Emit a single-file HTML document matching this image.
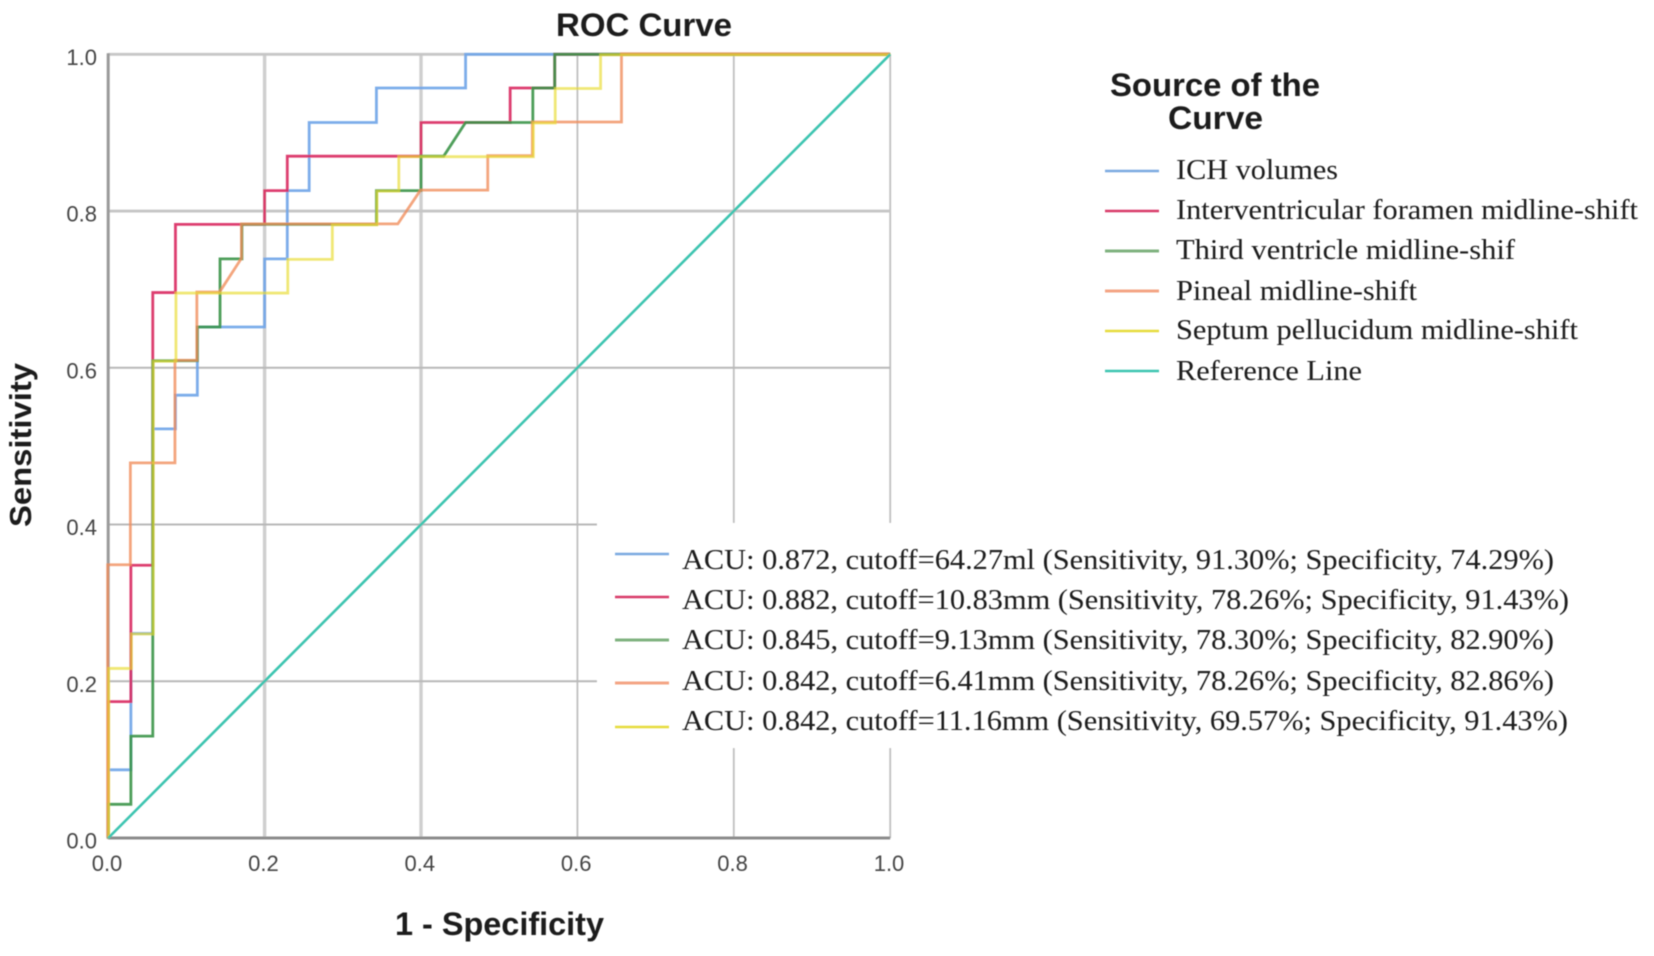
<!DOCTYPE html>
<html lang="en">
<head>
<meta charset="utf-8">
<title>ROC Curve</title>
<style>
html,body{margin:0;padding:0;background:#fff;width:1654px;height:956px;overflow:hidden}
svg{display:block}
.sans{font-family:"Liberation Sans",sans-serif}
.serif{font-family:"Liberation Serif",serif;font-size:29px;fill:#1a1a1a}
.bold{font-weight:bold;fill:#1a1a1a}
.tick{font-family:"Liberation Sans",sans-serif;font-size:22px;fill:#444}
</style>
</head>
<body>
<svg id="chart" width="1654" height="956" viewBox="0 0 1654 956" xmlns="http://www.w3.org/2000/svg">
  <defs>
    <filter id="soft" x="-5%" y="-5%" width="110%" height="110%"><feGaussianBlur stdDeviation="0.45"/></filter>
    <filter id="softtext" x="-5%" y="-5%" width="110%" height="110%"><feGaussianBlur stdDeviation="0.4"/></filter>
  </defs>
  <rect x="0" y="0" width="1654" height="956" fill="#ffffff"/>
  <g id="plot" filter="url(#soft)">
    <g id="grid"></g>
    <rect x="597" y="523" width="1057" height="225" fill="#ffffff"/>
    <g id="axes"></g>
    <g id="series" fill="none" stroke-linejoin="miter"></g>
  </g>
  <g id="ticks" filter="url(#softtext)"></g>
  <g filter="url(#softtext)">
    <text class="sans bold" x="556" y="36" font-size="32" textLength="176" lengthAdjust="spacingAndGlyphs">ROC Curve</text>
    <text class="sans bold" transform="translate(31,527) rotate(-90)" font-size="31" textLength="164" lengthAdjust="spacingAndGlyphs">Sensitivity</text>
    <text class="sans bold" x="395" y="935" font-size="32" textLength="209" lengthAdjust="spacingAndGlyphs">1 - Specificity</text>

    <text class="sans bold" x="1110" y="96" font-size="32" textLength="210" lengthAdjust="spacingAndGlyphs">Source of the</text>
    <text class="sans bold" x="1168" y="129" font-size="32" textLength="95" lengthAdjust="spacingAndGlyphs">Curve</text>

    <g>
      <line x1="1105" x2="1159" y1="171" y2="171" stroke="#7aa9e0" stroke-width="2.5"/>
      <text class="serif" x="1176" y="179" textLength="162" lengthAdjust="spacingAndGlyphs">ICH volumes</text>
      <line x1="1105" x2="1159" y1="211" y2="211" stroke="#d83a68" stroke-width="2.5"/>
      <text class="serif" x="1176" y="219" textLength="462" lengthAdjust="spacingAndGlyphs">Interventricular foramen midline-shift</text>
      <line x1="1105" x2="1159" y1="251" y2="251" stroke="#7fb27f" stroke-width="3"/>
      <text class="serif" x="1176" y="259" textLength="339" lengthAdjust="spacingAndGlyphs">Third ventricle midline-shif</text>
      <line x1="1105" x2="1159" y1="291" y2="291" stroke="#f3a584" stroke-width="3"/>
      <text class="serif" x="1176" y="300" textLength="241" lengthAdjust="spacingAndGlyphs">Pineal midline-shift</text>
      <line x1="1105" x2="1159" y1="331" y2="331" stroke="#e6dc3c" stroke-width="2.5"/>
      <text class="serif" x="1176" y="339" textLength="402" lengthAdjust="spacingAndGlyphs">Septum pellucidum midline-shift</text>
      <line x1="1105" x2="1159" y1="371" y2="371" stroke="#3cc4b0" stroke-width="2.5"/>
      <text class="serif" x="1176" y="380" textLength="186" lengthAdjust="spacingAndGlyphs">Reference Line</text>
    </g>

    <g>
      <line x1="615" x2="669" y1="554" y2="554" stroke="#7aa9e0" stroke-width="2.5"/>
      <text class="serif" x="682" y="569" textLength="872" lengthAdjust="spacingAndGlyphs">ACU: 0.872, cutoff=64.27ml (Sensitivity, 91.30%; Specificity, 74.29%)</text>
      <line x1="615" x2="669" y1="597" y2="597" stroke="#d83a68" stroke-width="2.5"/>
      <text class="serif" x="682" y="609" textLength="887" lengthAdjust="spacingAndGlyphs">ACU: 0.882, cutoff=10.83mm (Sensitivity, 78.26%; Specificity, 91.43%)</text>
      <line x1="615" x2="669" y1="640" y2="640" stroke="#7fb27f" stroke-width="3"/>
      <text class="serif" x="682" y="649" textLength="872" lengthAdjust="spacingAndGlyphs">ACU: 0.845, cutoff=9.13mm (Sensitivity, 78.30%; Specificity, 82.90%)</text>
      <line x1="615" x2="669" y1="683" y2="683" stroke="#f3a584" stroke-width="3"/>
      <text class="serif" x="682" y="690" textLength="872" lengthAdjust="spacingAndGlyphs">ACU: 0.842, cutoff=6.41mm (Sensitivity, 78.26%; Specificity, 82.86%)</text>
      <line x1="615" x2="669" y1="727" y2="727" stroke="#e6dc3c" stroke-width="2.5"/>
      <text class="serif" x="682" y="730" textLength="886" lengthAdjust="spacingAndGlyphs">ACU: 0.842, cutoff=11.16mm (Sensitivity, 69.57%; Specificity, 91.43%)</text>
    </g>
  </g>
</svg>
<script>
// Tick labels
const xTickValues = [0.0, 0.2, 0.4, 0.6, 0.8, 1.0];
const yTickValues = [0.0, 0.2, 0.4, 0.6, 0.8, 1.0];
const xTickLabels = ['0.0', '0.2', '0.4', '0.6', '0.8', '1.0'];
const yTickLabels = ['0.0', '0.2', '0.4', '0.6', '0.8', '1.0'];

// ICH volumes
const ichX = [0, 0, 0.029, 0.029, 0.057, 0.057, 0.086, 0.086, 0.114, 0.114, 0.2, 0.2, 0.229, 0.229, 0.257, 0.257, 0.343, 0.343, 0.457, 0.457, 1];
const ichY = [0, 0.087, 0.087, 0.261, 0.261, 0.522, 0.522, 0.565, 0.565, 0.652, 0.652, 0.739, 0.739, 0.826, 0.826, 0.913, 0.913, 0.957, 0.957, 1, 1];
// Interventricular foramen midline-shift
const interventricularX = [0, 0, 0.029, 0.029, 0.057, 0.057, 0.086, 0.086, 0.2, 0.2, 0.229, 0.229, 0.4, 0.4, 0.514, 0.514, 0.571, 0.571, 1];
const interventricularY = [0, 0.174, 0.174, 0.348, 0.348, 0.696, 0.696, 0.783, 0.783, 0.826, 0.826, 0.87, 0.87, 0.913, 0.913, 0.957, 0.957, 1, 1];
// Third ventricle midline-shift
const thirdVentricleX = [0, 0, 0.029, 0.029, 0.057, 0.057, 0.114, 0.114, 0.143, 0.143, 0.171, 0.171, 0.343, 0.343, 0.4, 0.4, 0.429, 0.457, 0.543, 0.543, 0.571, 0.571, 1];
const thirdVentricleY = [0, 0.043, 0.043, 0.13, 0.13, 0.609, 0.609, 0.652, 0.652, 0.739, 0.739, 0.783, 0.783, 0.826, 0.826, 0.87, 0.87, 0.913, 0.913, 0.957, 0.957, 1, 1];
// Pineal midline-shift
const pinealX = [0, 0, 0.029, 0.029, 0.086, 0.086, 0.114, 0.114, 0.143, 0.171, 0.171, 0.371, 0.4, 0.486, 0.486, 0.543, 0.543, 0.657, 0.657, 1];
const pinealY = [0, 0.348, 0.348, 0.478, 0.478, 0.609, 0.609, 0.696, 0.696, 0.739, 0.783, 0.783, 0.826, 0.826, 0.87, 0.87, 0.913, 0.913, 1, 1];
// Septum pellucidum midline-shift
const septumX = [0, 0, 0.029, 0.029, 0.057, 0.057, 0.086, 0.086, 0.229, 0.229, 0.286, 0.286, 0.343, 0.343, 0.371, 0.371, 0.543, 0.543, 0.571, 0.571, 0.629, 0.629, 1];
const septumY = [0, 0.217, 0.217, 0.261, 0.261, 0.609, 0.609, 0.696, 0.696, 0.739, 0.739, 0.783, 0.783, 0.826, 0.826, 0.87, 0.87, 0.913, 0.913, 0.957, 0.957, 1, 1];
// Reference line
const referenceX = [0, 1];
const referenceY = [0, 1];

const X0 = 108.2, X1 = 890.2, Y0 = 838, Y1 = 54.3;
function xScale(v) { return X0 + (X1 - X0) * v; }
function yScale(v) { return Y0 - (Y0 - Y1) * v; }
const SVGNS = 'http://www.w3.org/2000/svg';
function make(tag, parent, props) {
  const el = document.createElementNS(SVGNS, tag);
  for (const k in props) el.setAttribute(k, props[k]);
  parent.appendChild(el);
  return el;
}
function pointsOf(xs, ys) {
  return xs.map(function (x, i) { return xScale(x).toFixed(2) + ',' + yScale(ys[i]).toFixed(2); }).join(' ');
}

const gridG = document.getElementById('grid');
const axesG = document.getElementById('axes');
const seriesG = document.getElementById('series');
const ticksG = document.getElementById('ticks');

// vertical gridlines
xTickValues.forEach(function (v, i) {
  if (v === 0) return;
  const el = make('line', gridG, {
    x1: xScale(v), x2: xScale(v), y1: yScale(0), y2: yScale(1),
    stroke: i <= 2 ? '#cfcfcf' : '#c0c0c0', 'stroke-width': i <= 2 ? 3.4 : 1.8
  });
  
  
});
// horizontal gridlines
yTickValues.forEach(function (v, i) {
  if (v === 0) return;
  const el = make('line', gridG, {
    x1: xScale(0), x2: xScale(1), y1: yScale(v), y2: yScale(v),
    stroke: i >= 4 ? '#c6c6c6' : '#b8b8b8', 'stroke-width': i >= 4 ? 2.8 : 2
  });
  
  
});

// axes
const yAxisLine = make('line', axesG, { x1: xScale(0), x2: xScale(0), y1: yScale(0) + 1, y2: yScale(1) - 1, stroke: '#9a9a9a', 'stroke-width': 3 });


const xAxisLine = make('line', axesG, { x1: xScale(0), x2: xScale(1), y1: yScale(0), y2: yScale(0), stroke: '#8c8c8c', 'stroke-width': 3 });



// series
const ichLine = make('polyline', seriesG, { points: pointsOf(ichX, ichY), stroke: '#6ea4e8', 'stroke-width': 2.8, 'stroke-opacity': 0.9 });


const interventricularLine = make('polyline', seriesG, { points: pointsOf(interventricularX, interventricularY), stroke: '#d92a5f', 'stroke-width': 2.8, 'stroke-opacity': 0.9 });


const thirdVentricleLine = make('polyline', seriesG, { points: pointsOf(thirdVentricleX, thirdVentricleY), stroke: '#3a9448', 'stroke-width': 2.8, 'stroke-opacity': 0.9 });


const pinealLine = make('polyline', seriesG, { points: pointsOf(pinealX, pinealY), stroke: '#f08c58', 'stroke-width': 2.8, 'stroke-opacity': 0.78, transform: 'translate(-0.5,-0.5)' });


const septumLine = make('polyline', seriesG, { points: pointsOf(septumX, septumY), stroke: '#e8da2c', 'stroke-width': 2.8, 'stroke-opacity': 0.65, transform: 'translate(0.5,0.5)' });


const referenceLine = make('polyline', seriesG, { points: pointsOf(referenceX, referenceY), stroke: '#3cc4b0', 'stroke-width': 2.6 });



// tick labels
xTickLabels.forEach(function (label, i) {
  const t = make('text', ticksG, { class: 'tick', x: xScale(xTickValues[i]) - 1.2, y: 871, 'text-anchor': 'middle' });
  t.textContent = label;
  
  
});
yTickLabels.forEach(function (label, i) {
  const t = make('text', ticksG, { class: 'tick', x: 97, y: yScale(yTickValues[i]) + 10.5, 'text-anchor': 'end' });
  t.textContent = label;
  
  
});
</script>
</body>
</html>
